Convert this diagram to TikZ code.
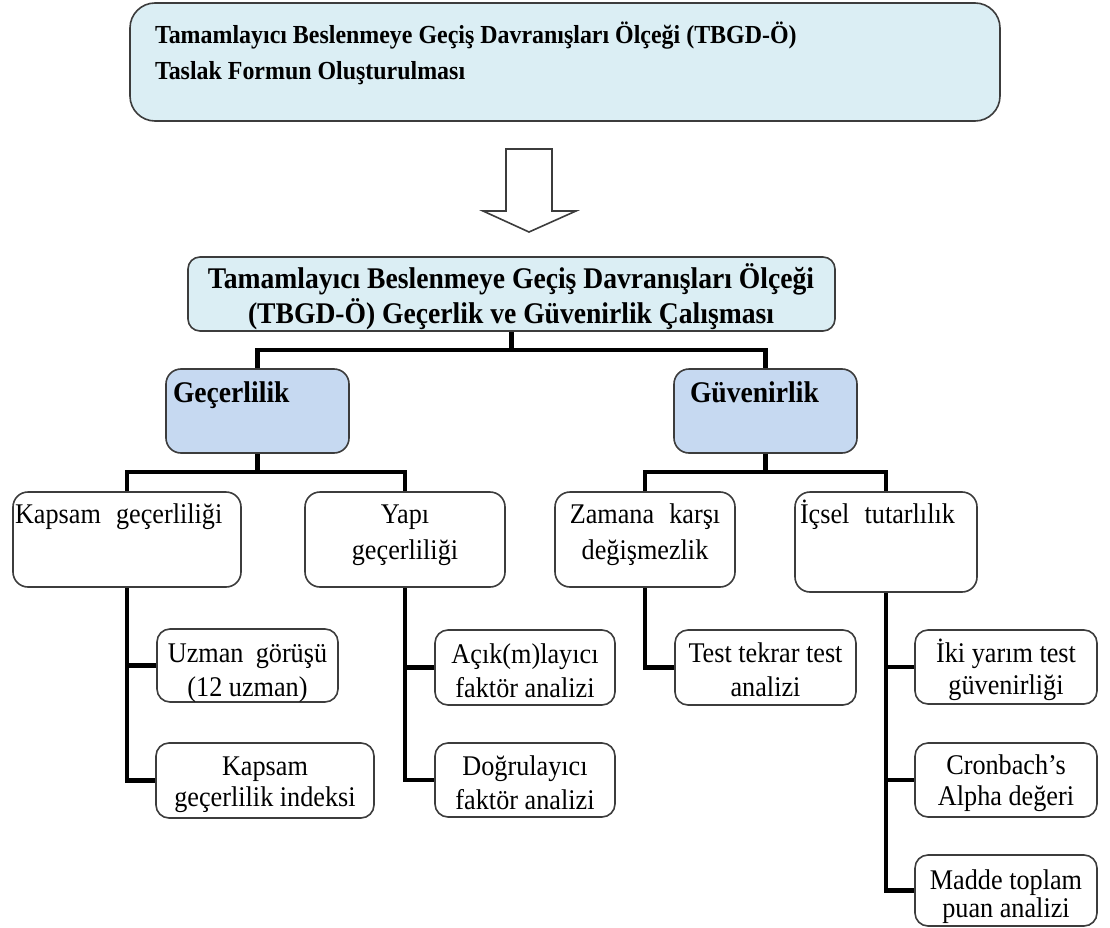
\documentclass[tikz,border=0pt]{standalone}
\usepackage{fontspec}
\setmainfont{Liberation Serif}[FakeStretch=0.92]
\usetikzlibrary{calc,backgrounds}
\definecolor{lblue}{HTML}{DBEEF4}
\definecolor{mblue}{HTML}{C6D9F1}
\definecolor{edgegray}{HTML}{3C3C3C}
\newcommand\st{\rule{0pt}{28pt}}
\begin{document}
\begin{tikzpicture}[x=1pt,y=-1pt,
  bx/.style={draw=edgegray, line width=1.6pt, rounded corners=13pt, inner sep=0pt, outer sep=0pt, anchor=north west, fill=white},
  conn/.style={line width=4.5pt, black},
  txt/.style={inner sep=0pt, outer sep=0pt, font=\fontsize{28.5}{34}\selectfont, align=center, anchor=north},
  ltxt/.style={txt, align=left, anchor=north west},
  arrowshape/.style={draw=edgegray, line width=1.6pt, fill=white, line join=miter}
]
\useasboundingbox (0,0) rectangle (1110,928);

% top box
\node[bx, fill=lblue, rounded corners=25pt, minimum width=870pt, minimum height=118pt] (b1) at (130,3) {};
\node[ltxt, font=\fontsize{26}{36}\selectfont\bfseries] (t1) at (155,16)
  {\st Tamamlayıcı Beslenmeye Geçiş Davranışları Ölçeği (TBGD-Ö)\\Taslak Formun Oluşturulması};

% hollow arrow
\draw[arrowshape] (506,149) -- (552,149) -- (552,211) -- (576,211) -- (529,232) -- (483,211) -- (506,211) -- cycle;

% second box
\node[bx, fill=lblue, rounded corners=12pt, minimum width=647pt, minimum height=74pt] (b2) at (188,257) {};
\node[txt, font=\fontsize{30}{35}\selectfont\bfseries] (t2) at (511,260)
  {\st Tamamlayıcı Beslenmeye Geçiş Davranışları Ölçeği\\(TBGD-Ö) Geçerlik ve Güvenirlik Çalışması};

% level 2
\node[bx, fill=mblue, rounded corners=15pt, minimum width=183pt, minimum height=84pt] (gec) at (166,369) {};
\node[ltxt, font=\fontsize{30}{32}\selectfont\bfseries] (tgec) at (173,374) {\st Geçerlilik};
\node[bx, fill=mblue, rounded corners=15pt, minimum width=183pt, minimum height=84pt] (guv) at (674,369) {};
\node[ltxt, font=\fontsize{30}{32}\selectfont\bfseries] (tguv) at (690,374) {\st Güvenirlik};

% level 3
\node[bx, rounded corners=15pt, minimum width=228pt, minimum height=95pt] (kap) at (13,492) {};
\node[ltxt] (tkap) at (15,495) {\st Kapsam\hspace{0.3em} geçerliliği};
\node[bx, rounded corners=15pt, minimum width=200pt, minimum height=95pt] (yapi) at (305,492) {};
\node[txt, font=\fontsize{28.5}{36}\selectfont] (tyapi) at ($(yapi.north)+(0,3)$) {\st Yapı\\geçerliliği};
\node[bx, rounded corners=15pt, minimum width=180pt, minimum height=95pt] (zam) at (555,492) {};
\node[txt, font=\fontsize{28.5}{36}\selectfont] (tzam) at ($(zam.north)+(0,3)$) {\st Zamana\hspace{0.3em} karşı\\değişmezlik};
\node[bx, rounded corners=15pt, minimum width=182pt, minimum height=100pt] (ics) at (795,492) {};
\node[ltxt] (tics) at (800,495) {\st İçsel\hspace{0.3em} tutarlılık};

% leaves
\node[bx, minimum width=181pt, minimum height=73pt] (uz) at (157,629) {};
\node[txt] (tuz) at ($(uz.north)+(0,5)$) {\st Uzman\hspace{0.2em} görüşü\\(12 uzman)};
\node[bx, minimum width=218pt, minimum height=75pt] (ind) at (156,743) {};
\node[txt, font=\fontsize{28.5}{31}\selectfont] (tind) at ($(ind.north)+(0,4)$) {\st Kapsam\\geçerlilik indeksi};
\node[bx, minimum width=180pt, minimum height=75pt] (acik) at (435,630) {};
\node[txt] (tacik) at ($(acik.north)+(0,5)$) {\st Açık(m)layıcı\\faktör analizi};
\node[bx, minimum width=180pt, minimum height=74pt] (dog) at (435,743) {};
\node[txt] (tdog) at ($(dog.north)+(0,4)$) {\st Doğrulayıcı\\faktör analizi};
\node[bx, minimum width=181pt, minimum height=75pt] (test) at (675,630) {};
\node[txt] (ttest) at ($(test.north)+(0,4)$) {\st Test tekrar test\\analizi};
\node[bx, minimum width=182pt, minimum height=74pt] (iki) at (915,630) {};
\node[txt, font=\fontsize{28.5}{32}\selectfont] (tiki) at ($(iki.north)+(0,4)$) {\st İki yarım test\\güvenirliği};
\node[bx, minimum width=182pt, minimum height=74pt] (cron) at (915,743) {};
\node[txt, font=\fontsize{28.5}{31}\selectfont] (tcron) at ($(cron.north)+(0,3)$) {\st Cronbach’s\\Alpha değeri};
\node[bx, minimum width=182pt, minimum height=71pt] (madde) at (915,855) {};
\node[txt, font=\fontsize{28.5}{28}\selectfont] (tmadde) at ($(madde.north)+(0,6)$) {\st Madde toplam\\puan analizi};

% connectors
\begin{scope}[on background layer]
\draw[conn] (b2.south) -- ++(0,19) coordinate (j1);
\draw[conn] (gec.north) |- (j1) -| (guv.north);
\draw[conn] (gec.south) -- ++(0,19) coordinate (j2);
\draw[conn] (kap.north) |- (j2) -| (yapi.north);
\draw[conn] (guv.south) -- ++(0,19) coordinate (j3);
\draw[conn] (zam.north) |- (j3) -| (ics.north);
\draw[conn] (kap.south) |- (uz.west);
\draw[conn] (kap.south) |- (ind.west);
\draw[conn] (yapi.south) |- (acik.west);
\draw[conn] (yapi.south) |- (dog.west);
\draw[conn] (zam.south) |- (test.west);
\draw[conn] (ics.south) |- (iki.west);
\draw[conn] (ics.south) |- (cron.west);
\draw[conn] (ics.south) |- (madde.west);
\end{scope}
\end{tikzpicture}
\end{document}
